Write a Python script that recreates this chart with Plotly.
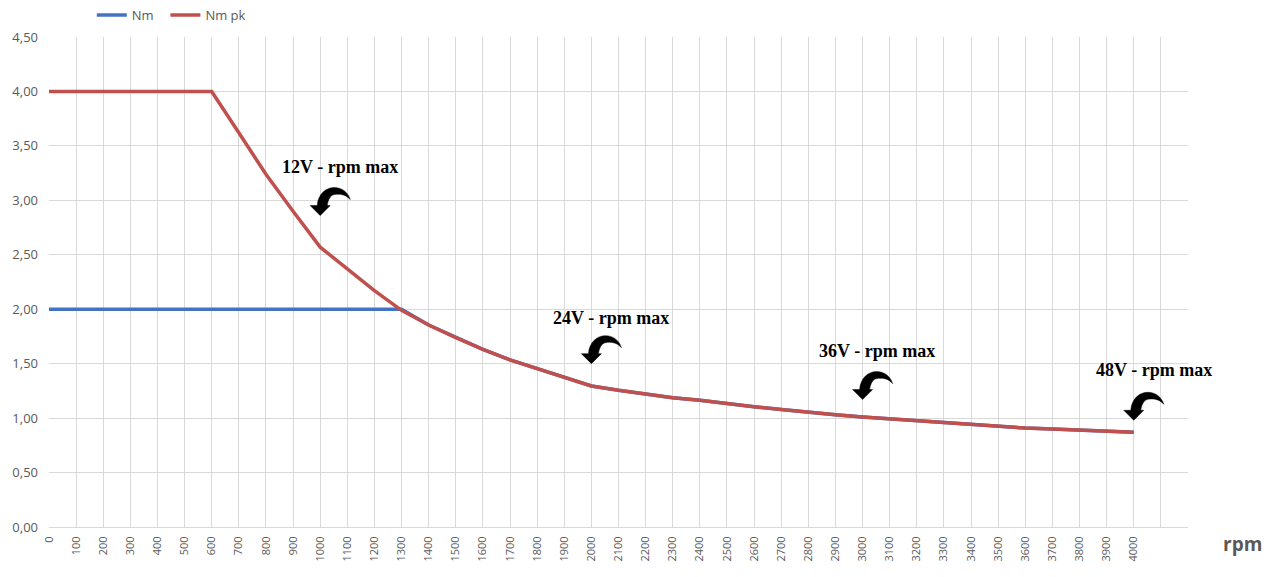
import plotly.graph_objects as go

# ---- data ----
rpm = [0, 100, 200, 300, 400, 500, 600, 700, 800, 900, 1000, 1100, 1200, 1300,
       1400, 1500, 1600, 1700, 1800, 1900, 2000, 2100, 2200, 2300, 2400, 2500,
       2600, 2700, 2800, 2900, 3000, 3100, 3200, 3300, 3400, 3500, 3600, 3700,
       3800, 3900, 4000]
nm_pk = [4.00, 4.00, 4.00, 4.00, 4.00, 4.00, 4.00, 3.62, 3.24, 2.90, 2.57, 2.37, 2.17, 1.99,
         1.855, 1.74, 1.632, 1.534, 1.457, 1.38, 1.295, 1.255, 1.22, 1.187, 1.163, 1.13,
         1.105, 1.08, 1.052, 1.03, 1.01, 0.993, 0.976, 0.954, 0.937, 0.92, 0.909, 0.90,
         0.888, 0.879, 0.870]
nm = [2.00, 2.00, 2.00, 2.00, 2.00, 2.00, 2.00, 2.00, 2.00, 2.00, 2.00, 2.00, 2.00, 2.00,
      1.855, 1.74, 1.632, 1.534, 1.457, 1.38, 1.295, 1.255, 1.22, 1.187, 1.163, 1.13,
      1.105, 1.08, 1.052, 1.03, 1.01, 0.993, 0.976, 0.954, 0.937, 0.92, 0.909, 0.90,
      0.888, 0.879, 0.870]
series_names = ["Nm", "Nm pk"]

x_tick_vals = list(range(0, 4300, 100))
x_tick_text = [str(v) if v <= 4000 else "" for v in x_tick_vals]
y_tick_vals = [0, 0.5, 1.0, 1.5, 2.0, 2.5, 3.0, 3.5, 4.0, 4.5]

note_texts = ["12V - rpm max", "24V - rpm max", "36V - rpm max", "48V - rpm max"]
note_x = [1074, 2074, 3055, 4074]
note_y = [3.306, 1.919, 1.616, 1.442]
arrow_x = [1000, 2000, 3000, 4000]
arrow_y = [2.86, 1.50, 1.17, 0.98]

BLUE = "#4472C4"
RED = "#C0504D"
GRID = "#d9d9d9"
TXT = "#595959"

fig = go.Figure()
fig.add_trace(go.Scatter(x=rpm, y=nm, mode="lines", name=series_names[0] + "\u00a0\u00a0",
                         line=dict(color=BLUE, width=3.5)))
fig.add_trace(go.Scatter(x=rpm, y=nm_pk, mode="lines", name=series_names[1],
                         line=dict(color=RED, width=3.5)))

for t, x, y in zip(note_texts, note_x, note_y):
    fig.add_annotation(x=x, y=y, text="<b>" + t + "</b>", showarrow=False,
                       font=dict(family="Liberation Serif", size=18, color="#000000"),
                       xanchor="center", yanchor="middle")

arrow_path = ("M 0,0 L -10,10 L -3,10 C -2,22 6,28 14,28 C 22,28 28,23 30,16 "
              "C 26,21 20,22 14,21 C 10,20 8,16 7,10 L 10,10 Z")
for x, y in zip(arrow_x, arrow_y):
    fig.add_shape(type="path", xref="x", yref="y", xsizemode="pixel", ysizemode="pixel",
                  xanchor=x, yanchor=y, path=arrow_path,
                  fillcolor="#000000", line=dict(color="#000000", width=0.5))

fig.add_annotation(xref="paper", yref="paper", text="<b>rpm</b>",
                   x=(1242 - 49) / 1139, y=-(544 - 527) / 490,
                   xanchor="center", yanchor="middle", showarrow=False,
                   font=dict(family="Open Sans", size=19, color=TXT))

fig.update_layout(
    width=1271, height=577,
    margin=dict(l=49, r=83, t=37, b=50, autoexpand=False),
    paper_bgcolor="white", plot_bgcolor="white",
    separators=", ",
    font=dict(family="Open Sans", color=TXT),
    showlegend=True,
    legend=dict(orientation="h", x=0.0376, y=1.045, xanchor="left", yanchor="middle",
                font=dict(size=13, color=TXT), bgcolor="rgba(0,0,0,0)",
                itemwidth=30, tracegroupgap=0),
    xaxis=dict(range=[0, 4200], tickmode="array", tickvals=x_tick_vals, ticktext=x_tick_text,
               tickangle=-90, tickfont=dict(size=11, color=TXT), showgrid=True,
               gridcolor=GRID, gridwidth=1, zeroline=False, showline=True,
               linecolor=GRID, linewidth=1, ticks="", ticklabelstandoff=4,
               automargin=False),
    yaxis=dict(range=[0, 4.5], tickmode="array", tickvals=y_tick_vals, tickformat=".2f",
               tickfont=dict(size=13, color=TXT), showgrid=True, gridcolor=GRID,
               gridwidth=1, zeroline=False, showline=False, ticks="",
               ticklabelstandoff=10, automargin=False),
)

fig.write_html("out.html",
               config={"displayModeBar": False},
               post_script="document.body.style.margin='0';document.body.style.overflow='hidden';")
